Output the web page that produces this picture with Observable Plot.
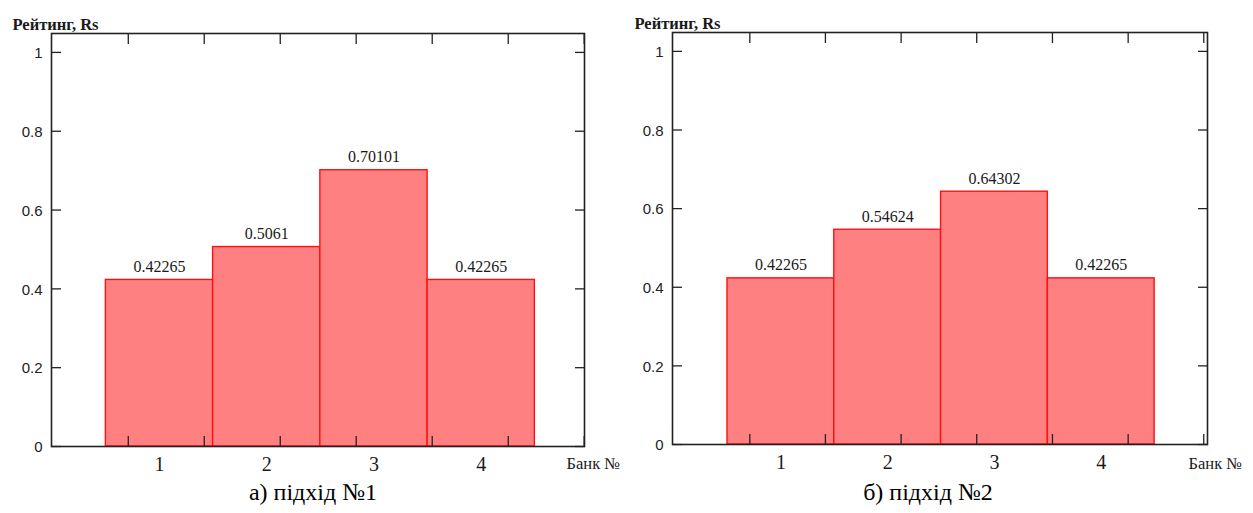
<!DOCTYPE html>
<html>
<head>
<meta charset="utf-8">
<script src="https://cdn.jsdelivr.net/npm/d3@7"></script>
<script src="https://cdn.jsdelivr.net/npm/@observablehq/plot@0.6"></script>
<style>
  html, body { margin: 0; padding: 0; background: #fff; }
  #wrap { position: relative; width: 1253px; height: 513px; overflow: hidden; font-family: "Liberation Serif", "Times New Roman", serif; }
  .panel { position: absolute; top: 0; }
  .cap { position: absolute; top: 478px; height: 28px; line-height: 28px; font-size: 24px; color: #000; text-align: center; width: 300px; font-family: "Liberation Serif", serif; }
</style>
</head>
<body>
<div id="wrap"></div>
<script>
// ---- data ----
const banks = [1, 2, 3, 4];
const ratingA = [0.42265, 0.5061, 0.70101, 0.42265];
const ratingB = [0.42265, 0.54624, 0.64302, 0.42265];
const yTicks = [0, 0.2, 0.4, 0.6, 0.8, 1];
const xGridTicks = [0.709, 1.417, 2.126, 2.834, 3.543, 4.252, 4.96];
const yLabel = "Рейтинг, Rs";
const xLabel = "Банк №";
const captions = ["а) підхід №1", "б) підхід №2"];

const wrap = document.getElementById("wrap");

function panel(values, cfg) {
  const data = banks.map((b, i) => ({bank: b, value: values[i]}));
  const ink = "#1a1a1a";
  const serif = "Liberation Serif";
  return Plot.plot({
    width: cfg.width,
    height: 480,
    marginLeft: cfg.ml,
    marginRight: cfg.mr,
    marginTop: cfg.mt,
    marginBottom: 480 - cfg.bottom,
    style: {fontFamily: "'Liberation Serif', serif", fontSize: "14px", color: ink, background: "transparent", overflow: "visible"},
    x: {domain: cfg.xDomain, axis: null},
    y: {domain: [0, 1.048], axis: null},
    marks: [
      Plot.rectY(data, {x1: d => d.bank - 0.5, x2: d => d.bank + 0.5, y: "value", fill: "#ff8080", stroke: "#ff1010", strokeWidth: 1.4}),
      Plot.text(data, {x: "bank", y: "value", text: d => String(d.value), dy: -13, fontSize: 16, fontFamily: serif, fill: ink}),
      // inward ticks
      Plot.axisY(yTicks, {anchor: "left", tickSize: -10, tickFormat: () => "", label: null, stroke: "#222", strokeWidth: 1.3}),
      Plot.axisY(yTicks, {anchor: "right", tickSize: -10, tickFormat: () => "", label: null, stroke: "#222", strokeWidth: 1.3}),
      Plot.axisX(xGridTicks, {anchor: "top", tickSize: -10, tickFormat: () => "", label: null, stroke: "#222", strokeWidth: 1.3}),
      Plot.axisX(xGridTicks, {anchor: "bottom", tickSize: -10, tickFormat: () => "", label: null, stroke: "#222", strokeWidth: 1.3}),
      // tick labels
      Plot.text(yTicks, {y: d => d, text: d => String(d), frameAnchor: "left", textAnchor: "end", dx: -9, dy: 1, fontSize: 15, fontFamily: "Liberation Sans", fill: "#222"}),
      Plot.text(banks, {x: d => d, text: d => String(d), frameAnchor: "bottom", lineAnchor: "top", dy: 10, fontSize: 20, fontFamily: serif, fill: ink}),
      Plot.frame({stroke: "#222", strokeWidth: 1.6}),
      Plot.text([yLabel], {text: d => d, frameAnchor: "top-left", textAnchor: "start", dx: cfg.ylDx, dy: -15, fontSize: 16.5, fontWeight: "bold", fontFamily: serif, fill: ink}),
      Plot.text([xLabel], {text: d => d, frameAnchor: "bottom-right", textAnchor: "start", dx: cfg.xlDx, dy: cfg.xlDy, fontSize: 16.5, fontFamily: serif, fill: ink})
    ]
  });
}

const p1 = panel(ratingA, {width: 626, ml: 51, mr: 42, mt: 33, bottom: 446, xDomain: [-0.007, 4.963], ylDx: -39, xlDx: -18, xlDy: 22});
p1.classList.add("panel");
p1.style.left = "0px";
wrap.appendChild(p1);

const p2 = panel(ratingB, {width: 627, ml: 46, mr: 46, mt: 32, bottom: 444, xDomain: [-0.015, 4.995], ylDx: -38, xlDx: -19, xlDy: 24});
p2.classList.add("panel");
p2.style.left = "626px";
wrap.appendChild(p2);

const capX = [313, 928];
captions.forEach((c, i) => {
  const d = document.createElement("div");
  d.className = "cap";
  d.textContent = c;
  d.style.left = (capX[i] - 150) + "px";
  wrap.appendChild(d);
});
</script>
</body>
</html>
